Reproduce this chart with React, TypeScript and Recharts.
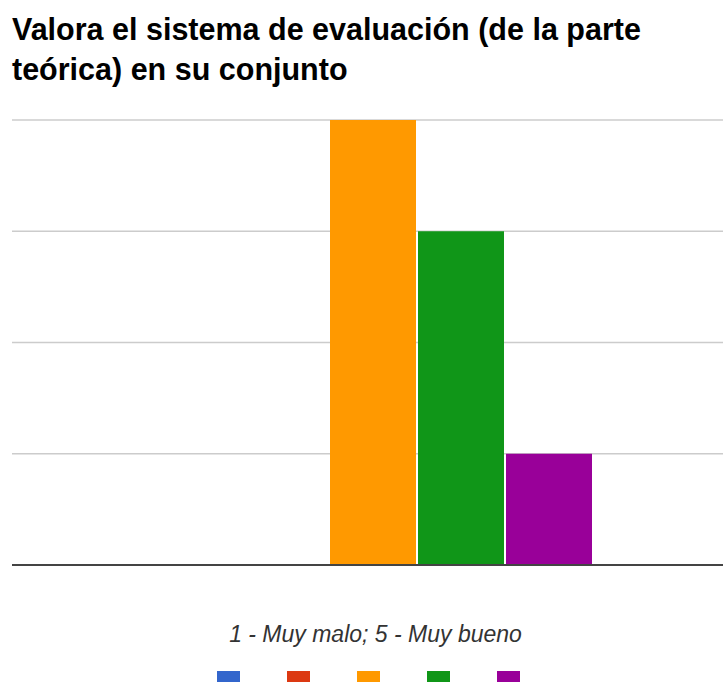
import { Bar, BarChart, CartesianGrid, ReferenceLine, XAxis, YAxis } from "recharts";

const categories = [""];
const seriesNames = ["1", "2", "3", "4", "5"];
const seriesValues = [[0], [0], [4], [3], [1]];
const seriesColors = ["#3366cc", "#dc3912", "#ff9900", "#109618", "#990099"];
const yTicks = [0, 1, 2, 3, 4];

const title = ["Valora el sistema de evaluación (de la parte", "teórica) en su conjunto"];
const legendTitle = "1 - Muy malo; 5 - Muy bueno";

const data = categories.map((name, i) => {
  const row: Record<string, string | number> = { name };
  seriesNames.forEach((s, j) => {
    row[s] = seriesValues[j][i];
  });
  return row;
});

const font = "'Liberation Sans', Arial, sans-serif";

export default function App() {
  return (
    <div style={{ position: "absolute", left: 0, top: 0, width: 723, height: 682, background: "#fff", overflow: "hidden" }}>
      <div
        style={{
          position: "absolute",
          left: 12,
          top: 9,
          fontFamily: font,
          fontWeight: "bold",
          fontSize: 30.5,
          lineHeight: "40px",
          color: "#000",
          whiteSpace: "nowrap",
        }}
      >
        {title.map((t) => (
          <div key={t}>{t}</div>
        ))}
      </div>
      <BarChart
        width={723}
        height={682}
        data={data}
        margin={{ top: 120, right: 0, left: 12, bottom: 117 }}
        barSize={86}
        barGap={2}
      >
        <CartesianGrid horizontal vertical={false} stroke="#cccccc" strokeWidth={1.5} />
        <YAxis hide domain={[0, 4]} ticks={yTicks} />
        <XAxis
          dataKey="name"
          tick={false}
          tickLine={false}
          axisLine={false}
          height={0}
          padding={{ left: 10, right: 0 }}
        />
        {seriesNames.map((s, i) => (
          <Bar key={s} dataKey={s} fill={seriesColors[i]} isAnimationActive={false} />
        ))}
        <ReferenceLine y={0} stroke="#444444" strokeWidth={2} />
      </BarChart>
      <div style={{ position: "absolute", left: 0, top: 622, width: 723, textAlign: "center", fontFamily: font }}>
        <div style={{ fontStyle: "italic", fontSize: 23, color: "#333", marginLeft: 28, lineHeight: "24px" }}>
          {legendTitle}
        </div>
        <div style={{ display: "flex", justifyContent: "center", gap: 47, marginTop: 25, marginLeft: 14 }}>
          {seriesNames.map((s, i) => (
            <div key={s} style={{ width: 23, height: 23, background: seriesColors[i] }} />
          ))}
        </div>
      </div>
    </div>
  );
}
